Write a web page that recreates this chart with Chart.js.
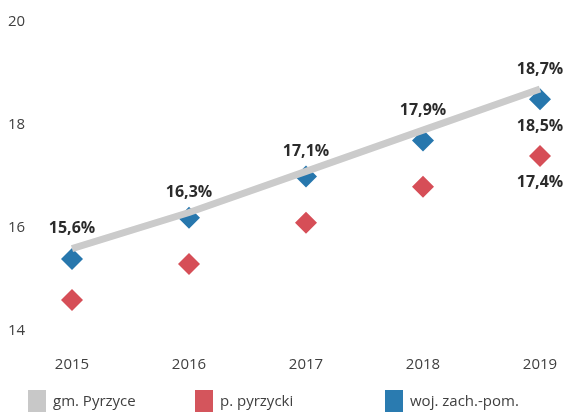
<!DOCTYPE html>
<html>
<head>
<meta charset="utf-8">
<script src="https://cdn.jsdelivr.net/npm/chart.js@4"></script>
<style>
  html, body { margin: 0; padding: 0; background: #fff; }
  #wrap { width: 568px; height: 413px; }
</style>
</head>
<body>
<div id="wrap"><canvas id="chart"></canvas></div>
<script>
const years = ["2015", "2016", "2017", "2018", "2019"];
const gmPyrzyce = [15.6, 16.3, 17.1, 17.9, 18.7];
const pPyrzycki = [14.6, 15.3, 16.1, 16.8, 17.4];
const wojZachPom = [15.4, 16.2, 17.0, 17.7, 18.5];
const yTicks = [14, 16, 18, 20];

const FONT = "'Open Sans', 'DejaVu Sans', sans-serif";

// value labels drawn next to the points
const valueLabels = {
    id: "valueLabels",
    afterDatasetsDraw(chart) {
        let ctx = chart.ctx;
        ctx.save();
        ctx.font = "bold 16px " + FONT;
        ctx.fillStyle = "#2b2b2b";
        ctx.textAlign = "center";
        ctx.textBaseline = "middle";
        chart.data.datasets.forEach((ds, i) => {
            let meta = chart.getDatasetMeta(i);
            meta.data.forEach((pt, j) => {
                if (ds.labelWhich === "last" && j !== ds.data.length - 1) return;
                let txt = ds.data[j].toFixed(1).replace(".", ",") + "%";
                let dy = ds.labelPos === "below" ? 27 : -20;
                ctx.fillText(txt, pt.x, pt.y + dy);
            });
        });
        ctx.restore();
    }
};

// legend spread along the bottom like in the original
const bottomLegend = {
    id: "bottomLegend",
    afterDraw(chart) {
        let ctx = chart.ctx;
        let starts = [28, 195, 385];
        ctx.save();
        ctx.font = "15px " + FONT;
        ctx.textBaseline = "middle";
        ctx.textAlign = "left";
        chart.data.datasets.forEach((ds, i) => {
            let x = starts[i];
            ctx.fillStyle = ds.legendColor;
            ctx.fillRect(x, 390, 18, 22);
            ctx.fillStyle = "#404040";
            ctx.fillText(ds.label, x + 25, 402);
        });
        ctx.restore();
    }
};

new Chart(document.getElementById("chart").getContext("2d"), {
    type: "line",
    data: {
        labels: years,
        datasets: [
            {
                label: "gm. Pyrzyce",
                data: gmPyrzyce,
                borderColor: "#cbcbcb",
                backgroundColor: "#cbcbcb",
                legendColor: "#c8c8c8",
                borderWidth: 7,
                pointRadius: 0,
                tension: 0,
                clip: false,
                labelWhich: "all",
                labelPos: "above"
            },
            {
                label: "p. pyrzycki",
                data: pPyrzycki,
                showLine: false,
                pointStyle: "rectRot",
                pointRadius: 11,
                pointBorderWidth: 0,
                backgroundColor: "#d64e57",
                borderColor: "#d64e57",
                legendColor: "#d4555c",
                clip: false,
                labelWhich: "last",
                labelPos: "below"
            },
            {
                label: "woj. zach.-pom.",
                data: wojZachPom,
                showLine: false,
                pointStyle: "rectRot",
                pointRadius: 11,
                pointBorderWidth: 0,
                backgroundColor: "#2777ad",
                borderColor: "#2777ad",
                legendColor: "#2a7bb0",
                clip: false,
                labelWhich: "last",
                labelPos: "below"
            }
        ]
    },
    options: {
        responsive: true,
        maintainAspectRatio: false,
        animation: false,
        layout: { padding: { top: 22, left: 8, right: 28, bottom: 32 } },
        plugins: {
            legend: { display: false },
            tooltip: { enabled: false }
        },
        scales: {
            x: {
                offset: false,
                grid: { display: false, drawTicks: false },
                border: { display: false },
                ticks: { color: "#404040", font: { family: FONT, size: 15 }, padding: 25, maxRotation: 0 },
                afterFit: (scale) => {
                    scale.height = 50;
                    scale.paddingLeft = 0;
                    scale.paddingRight = 0;
                }
            },
            y: {
                min: 14,
                max: 20,
                grid: { display: false, drawTicks: false },
                border: { display: false },
                afterBuildTicks: (scale) => { scale.ticks = yTicks.map(v => ({ value: v })); },
                ticks: { color: "#404040", font: { family: FONT, size: 15 }, crossAlign: "far", padding: 0 },
                afterFit: (scale) => { scale.width = 64; }
            }
        }
    },
    plugins: [valueLabels, bottomLegend]
});
</script>
</body>
</html>
